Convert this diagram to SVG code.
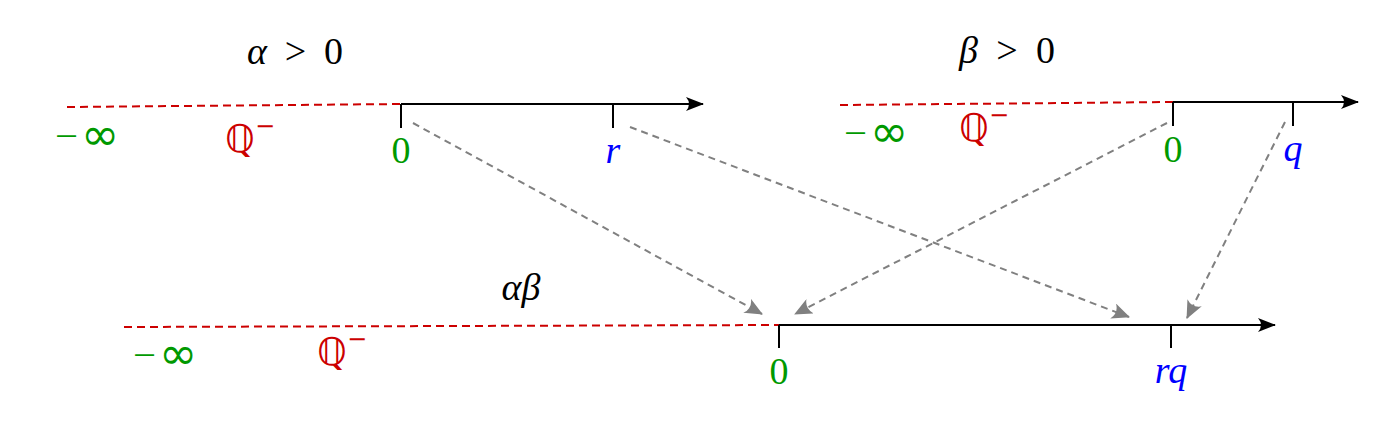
<svg xmlns="http://www.w3.org/2000/svg" width="1376" height="426" viewBox="0 0 1376 426">
<style>
.ax{stroke:#000;stroke-width:2;fill:none}
.neg{stroke:#cc0000;stroke-width:2;stroke-dasharray:8 5;fill:none}
.map{stroke:#808080;stroke-width:2;stroke-dasharray:7 5;fill:none}
text{font-family:"Liberation Serif","DejaVu Serif",serif;font-size:38px;text-anchor:middle}
.it{font-style:italic}
.g{fill:#009900}
.r{fill:#cc0000}
.b{fill:#0000ff}
.k{fill:#000}
.dq{font-family:"DejaVu Sans",sans-serif;font-size:38px}
.inf{font-family:"DejaVu Sans",sans-serif;font-size:46px;text-anchor:start}
.mn{text-anchor:start}
</style>
<defs>
<marker id="ah" viewBox="0 0 18 14" refX="17" refY="7" markerWidth="18" markerHeight="14" markerUnits="userSpaceOnUse" orient="auto">
<path d="M0,0 Q6,7 0,14 L18,7 Z" fill="#000"/>
</marker>
<marker id="ahg" viewBox="0 0 18 16" refX="17" refY="8" markerWidth="18" markerHeight="16" markerUnits="userSpaceOnUse" orient="auto">
<path d="M0,0 Q6,8 0,16 L18,8 Z" fill="#808080"/>
</marker>
</defs>

<g id="axis-alpha">
<path class="neg" d="M67,107 L401,104"/>
<path class="ax" d="M401,104 L703,104" marker-end="url(#ah)"/>
<path class="ax" d="M401,104 V128 M613,104 V128"/>
<text class="k" x="295" y="64" textLength="96" lengthAdjust="spacing"><tspan class="it">α</tspan> &gt; 0</text>
<text class="g mn" x="55" y="149" textLength="23" lengthAdjust="spacingAndGlyphs">−</text>
<text class="g inf" x="81" y="150">∞</text>
<text class="r dq" x="250" y="152">ℚ<tspan font-size="24" dy="-18">−</tspan></text>
<text class="g" x="401" y="163">0</text>
<text class="b it" x="613" y="163">r</text>
</g>

<g id="axis-beta">
<path class="neg" d="M840,105 L1173,102"/>
<path class="ax" d="M1173,102 L1358,102" marker-end="url(#ah)"/>
<path class="ax" d="M1173,102 V126 M1293,102 V126"/>
<text class="k" x="1007" y="63" textLength="96" lengthAdjust="spacing"><tspan class="it">β</tspan> &gt; 0</text>
<text class="g mn" x="844" y="146" textLength="23" lengthAdjust="spacingAndGlyphs">−</text>
<text class="g inf" x="870" y="147">∞</text>
<text class="r dq" x="984" y="141">ℚ<tspan font-size="24" dy="-18">−</tspan></text>
<text class="g" x="1173" y="162">0</text>
<text class="b it" x="1293" y="161">q</text>
</g>

<g id="axis-product">
<path class="neg" d="M124,327 L779,325"/>
<path class="ax" d="M779,325 L1275,325" marker-end="url(#ah)"/>
<path class="ax" d="M779,325 V348 M1171,325 V348"/>
<text class="k it" x="521" y="300">αβ</text>
<text class="g mn" x="133" y="368" textLength="23" lengthAdjust="spacingAndGlyphs">−</text>
<text class="g inf" x="159" y="369">∞</text>
<text class="r dq" x="342" y="365">ℚ<tspan font-size="24" dy="-18">−</tspan></text>
<text class="g" x="779" y="384">0</text>
<text class="b it" x="1171" y="383">rq</text>
</g>

<g id="connectors">
<path class="map" d="M413,123 L762,314" marker-end="url(#ahg)"/>
<path class="map" d="M630,127 L1129,317" marker-end="url(#ahg)"/>
<path class="map" d="M1167,123 L795,314" marker-end="url(#ahg)"/>
<path class="map" d="M1285,122 L1187,318" marker-end="url(#ahg)"/>
</g>
</svg>
